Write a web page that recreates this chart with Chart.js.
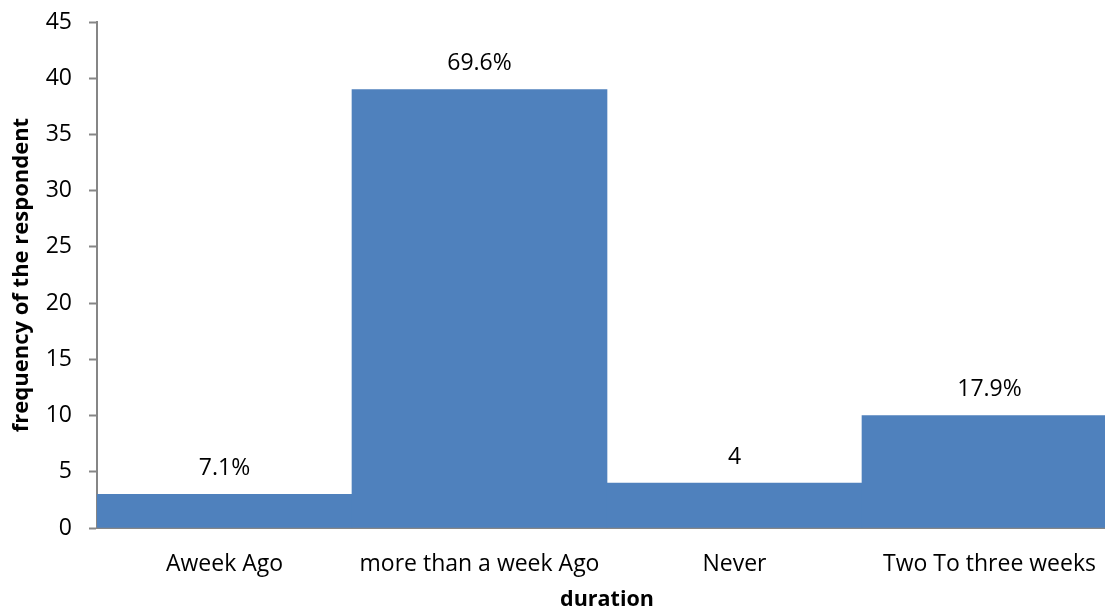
<!DOCTYPE html>
<html>
<head>
<meta charset="utf-8">
<script src="https://cdn.jsdelivr.net/npm/chart.js@4"></script>
<style>
  html, body { margin: 0; padding: 0; background: #fff; }
  /* the original plot runs a little past the right edge of the picture */
  #wrap { width: 1105px; height: 611px; position: relative; overflow: hidden; }
  #chart { display: block; }
</style>
</head>
<body>
<div id="wrap"><canvas id="chart" width="1117" height="611"></canvas></div>
<script>
// --- DATA ---
const categories = ['Aweek Ago', 'more than a week Ago', 'Never', 'Two To three weeks'];
const frequencies = [3, 39, 4, 10];
const barLabels = ['7.1%', '69.6%', '4', '17.9%'];

const FONT = "'Open Sans', sans-serif";
const AXIS_GREY = '#868686';

// draws the label text above each bar
const barLabelPlugin = {
    id: 'barLabels',
    afterDatasetsDraw(chart) {
        const ctx = chart.ctx;
        const meta = chart.getDatasetMeta(0);
        ctx.save();
        ctx.font = '23px ' + FONT;
        ctx.fillStyle = '#000';
        ctx.textAlign = 'center';
        ctx.textBaseline = 'middle';
        meta.data.forEach((bar, i) => {
            ctx.fillText(barLabels[i], bar.x, bar.y - 26);
        });
        ctx.restore();
    }
};

new Chart(document.getElementById('chart'), {
    type: 'bar',
    data: {
        labels: categories,
        datasets: [{
            data: frequencies,
            backgroundColor: '#4F81BD',
            barPercentage: 1,
            categoryPercentage: 1
        }]
    },
    options: {
        responsive: false,
        animation: false,
        layout: { padding: 0 },
        plugins: { legend: { display: false }, tooltip: { enabled: false } },
        scales: {
            x: {
                grid: { display: false },
                border: { display: true, color: AXIS_GREY, width: 2 },
                ticks: { color: '#000', font: { size: 23, family: FONT }, padding: 15, maxRotation: 0 },
                title: { display: true, text: 'duration', color: '#000', font: { size: 21.5, weight: 'bold', family: FONT, lineHeight: 1 }, padding: { top: 0, bottom: 0 } },
                afterFit(axis) {
                    axis.height = 83;
                    axis.paddingRight = 0;
                    axis.paddingLeft = 0;
                }
            },
            y: {
                min: 0,
                max: 45,
                ticks: { stepSize: 5, color: '#000', font: { size: 23, family: FONT }, padding: 17 },
                grid: { drawOnChartArea: false, tickLength: 8, color: AXIS_GREY, tickWidth: 2 },
                border: { display: true, color: AXIS_GREY, width: 2 },
                title: { display: true, text: 'frequency of the respondent', color: '#000', font: { size: 22, weight: 'bold', family: FONT, lineHeight: 1 }, padding: { top: 11, bottom: 0 } },
                afterFit(axis) {
                    axis.width = 97;
                    axis.paddingTop = 22;
                    axis.paddingBottom = 0;
                }
            }
        }
    },
    plugins: [barLabelPlugin]
});
</script>
</body>
</html>
